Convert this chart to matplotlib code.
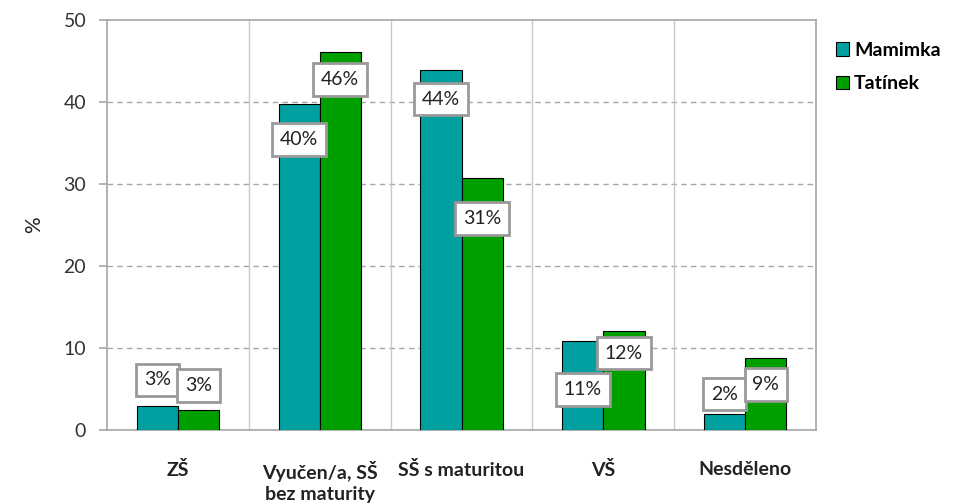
import numpy as np
import matplotlib.pyplot as plt

plt.rcParams['font.family'] = ['Lato', 'DejaVu Sans']

# data
categories = ['ZŠ', 'Vyučen/a, SŠ\nbez maturity', 'SŠ s maturitou', 'VŠ', 'Nesděleno']
mamimka = [2.9, 39.8, 43.9, 10.9, 2.0]
tatinek = [2.4, 46.1, 30.7, 12.1, 8.8]
mamimka_lbl = ['3%', '40%', '44%', '11%', '2%']
tatinek_lbl = ['3%', '46%', '31%', '12%', '9%']
# label offsets in points (positive = above bar top)
mamimka_off = [19, -26, -21, -35, 14]
tatinek_off = [18, -20, -29, -16, -19]

col_m = '#00A0A0'
col_t = '#009F00'
grey = '#A6A6A6'

fig = plt.figure(figsize=(9.59, 5.04), dpi=100)
ax = fig.add_axes([0.1116, 0.1468, 0.7394, 0.8135])

x = np.arange(len(categories))
w = 0.29
ax.bar(x - w / 2, mamimka, w, color=col_m, edgecolor='black', linewidth=0.8, label='Mamimka', zorder=3)
ax.bar(x + w / 2, tatinek, w, color=col_t, edgecolor='black', linewidth=0.8, label='Tatínek', zorder=3)

box = dict(boxstyle='square,pad=0.4', facecolor='white', edgecolor='#999999', linewidth=2)
for xs, vals, lbls, offs in [(x - w / 2, mamimka, mamimka_lbl, mamimka_off),
                             (x + w / 2, tatinek, tatinek_lbl, tatinek_off)]:
    for xi, v, l, o in zip(xs, vals, lbls, offs):
        ax.annotate(l, (xi, v), xytext=(0, o), textcoords='offset points',
                    ha='center', va='center', fontsize=14, color='#222222',
                    bbox=box, zorder=5)

ax.set_xlim(-0.5, len(categories) - 0.5)
ax.set_ylim(0, 50)
ax.set_yticks(range(0, 51, 10))
for yv in range(10, 50, 10):
    ax.axhline(yv, color=grey, linestyle=(0, (4, 3)), linewidth=1, zorder=1)
for xv in np.arange(0.5, len(categories) - 0.5, 1):
    ax.axvline(xv, color='#C8C8C8', linewidth=1, zorder=1)

for s in ax.spines.values():
    s.set_color(grey)
    s.set_linewidth(1.2)

ax.set_xticks(x)
ax.set_xticklabels(categories, fontsize=14, fontweight='bold', color='#222222', va='top',
                   linespacing=1.3)
ax.tick_params(axis='x', length=0, pad=22)
ax.tick_params(axis='y', labelsize=14, colors=grey, labelcolor='#333333', length=6, width=1.2, pad=9)
ax.set_ylabel('%', fontsize=15, color='#222222', labelpad=14)

ax.legend(loc='upper left', bbox_to_anchor=(1.003, 0.99), frameon=False,
          prop={'weight': 'bold', 'size': 14},
          handlelength=0.7, handleheight=0.7, handletextpad=0.25, labelspacing=0.85)

fig.savefig('out.png', dpi=100)
